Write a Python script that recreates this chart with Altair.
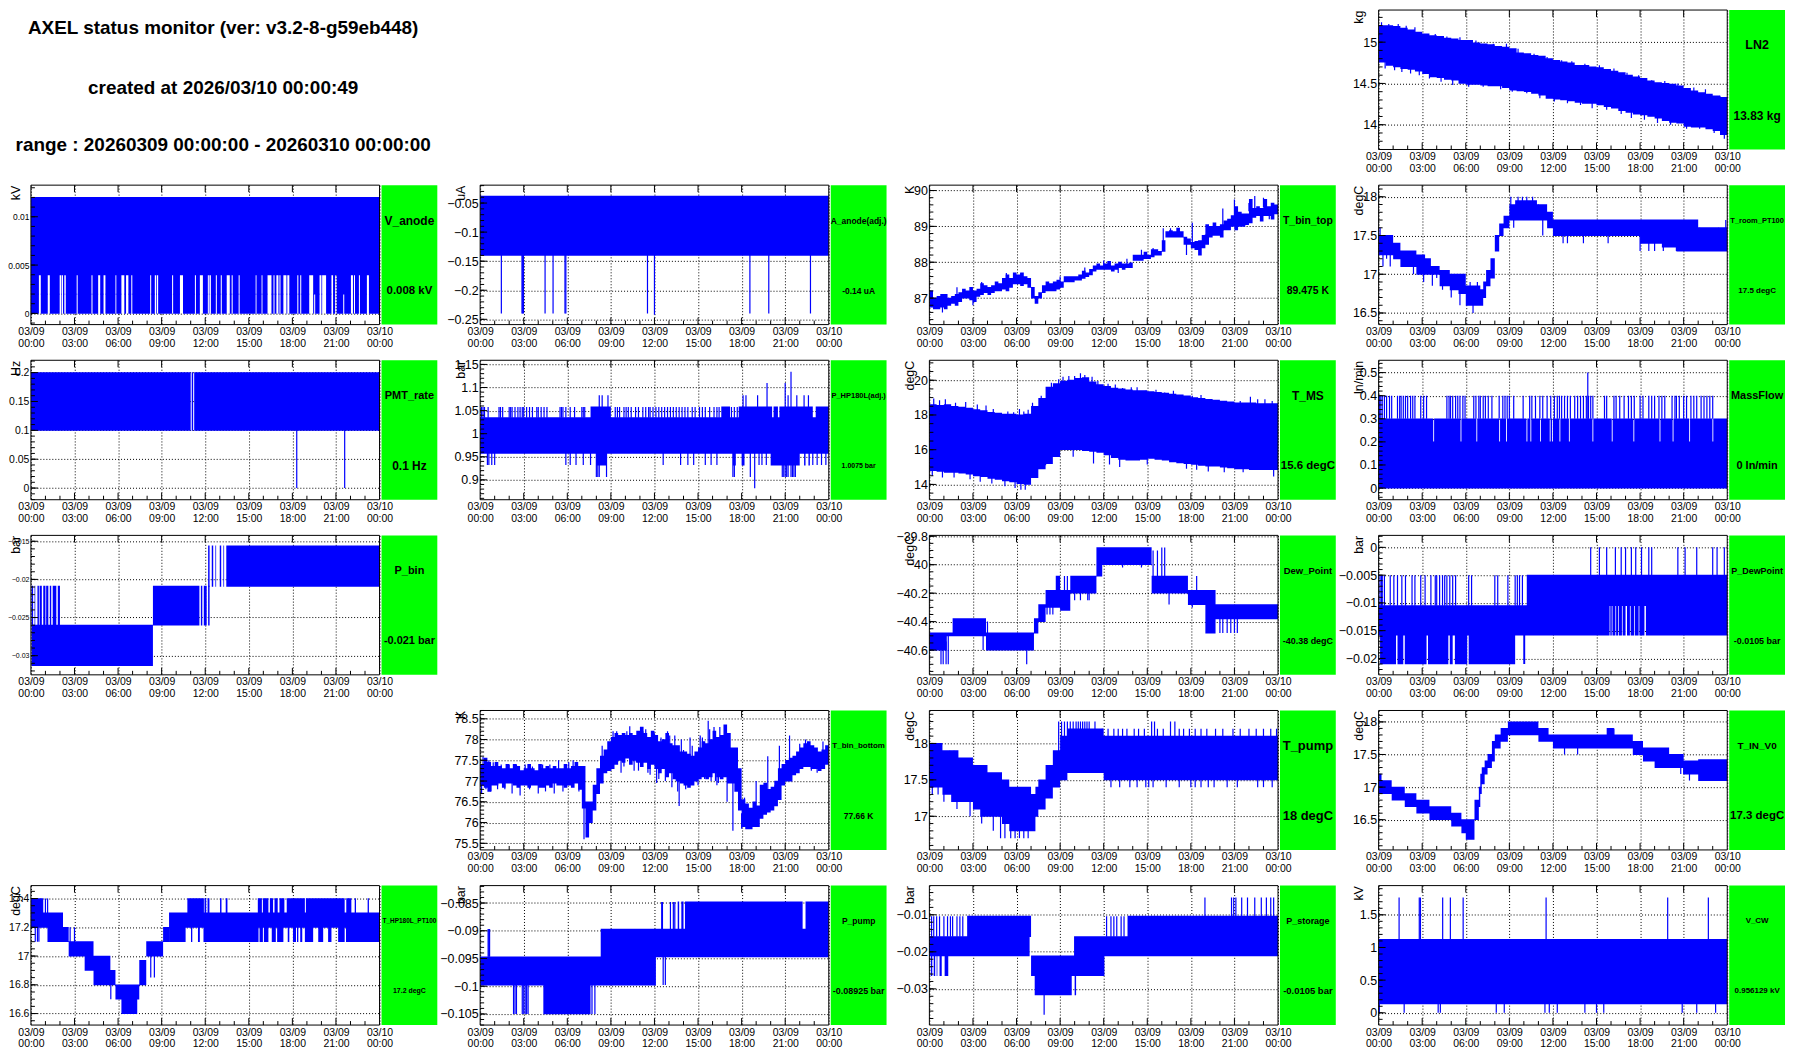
import altair as alt
import pandas as pd

BLUE = "#0000ff"
GREEN = "#00ff00"
FONT = "Liberation Sans"
HOURS_MAJOR = [0, 3, 6, 9, 12, 15, 18, 21, 24]
HOURS_MINOR = [1, 2, 4, 5, 7, 8, 10, 11, 13, 14, 16, 17, 19, 20, 22, 23]

TITLE_LINES = ["AXEL status monitor (ver: v3.2-8-g59eb448)",
               "created at 2026/03/10 00:00:49",
               "range : 20260309 00:00:00 - 20260310 00:00:00"]

# ---------- LN2
LN2_HI = [15.2,15.2,15.19,15.17,15.15,15.12,15.1,15.08,15.07,15.05,15.04,15.02,15.02,14.99,14.98,14.97,14.95,14.94,14.92,14.87,14.86,14.84,14.83,14.8,14.78,14.76,14.75,14.72,14.72,14.7,14.69,14.67,14.65,14.63,14.6,14.58,14.56,14.53,14.51,14.5,14.49,14.47,14.44,14.41,14.39,14.37,14.35,14.33,14.31]
LN2_LO = [14.76,14.72,14.7,14.68,14.67,14.65,14.62,14.58,14.57,14.55,14.54,14.5,14.49,14.49,14.48,14.47,14.47,14.45,14.42,14.41,14.4,14.38,14.36,14.32,14.31,14.3,14.29,14.27,14.26,14.26,14.24,14.22,14.2,14.17,14.15,14.13,14.12,14.1,14.08,14.05,14.03,14.02,13.98,13.97,13.97,13.95,13.93,13.88,13.84]
LN2_ST = [.2,.45,.7,1.1,1.35,1.6,1.9,2.2,2.5,2.8,3.2,3.5,3.9,4.3,4.7,5.1,5.6,6.2,6.7,7.2,7.9,8.4,8.8,9.2,9.6,10.2,10.7,11.1,11.6,12.1,12.6,13.0,13.3,13.9,14.2,14.7,15.2,15.7,16.2,16.7,17.1,17.4,17.9,18.3,18.8,19.2,19.7,20.1,20.6,21.2,21.7,22.1,22.5,23.1,23.5,23.8]
LN2_SY = [15.24,14.68,15.22,14.66,15.22,14.64,15.2,14.62,15.18,14.6,15.1,14.56,15.1,14.52,15.07,14.48,15.06,14.46,15.02,14.46,14.98,14.43,14.98,14.4,14.92,14.38,14.86,14.32,14.82,14.28,14.78,14.26,14.77,14.24,14.74,14.2,14.72,14.18,14.68,14.13,14.63,14.08,14.6,14.06,14.54,14.02,14.53,14.0,14.5,13.95,14.45,13.95,14.43,13.9,14.35,13.83]

# ---------- V_anode
VA_GAPS = [(.55,.68),(1.16,1.3),(1.98,2.08),(2.12,2.21),(2.3,2.4),(3.15,3.22),(4.17,4.24),(4.63,4.77),(5.0,5.13),(5.82,5.88),(6.23,6.43),(6.55,6.71),(6.91,6.98),(8.21,8.28),(8.53,8.62),(8.67,8.76),(9.72,9.79),(10.26,10.47),(11.29,11.36),(11.63,11.84),(12.18,12.25),(12.29,12.39),(12.73,12.8),(13.07,13.14),(13.48,13.69),(13.82,13.89),(14.3,14.37),(15.47,15.53),(15.88,15.94),(16.29,16.56),(16.7,16.77),(16.9,17.04),(17.11,17.18),(17.38,17.59),(17.65,17.79),(18.34,18.41),(18.54,18.61),(19.16,19.43),(19.87,20.0),(20.05,20.32),(20.69,20.8),(20.94,21.05),(22.03,22.17),(22.24,22.31),(22.58,22.65),(23.13,23.27)]
VA_LOWGAPS = [(19.5,19.57),(21.5,21.57)]

# ---------- A_anode
AA_ST = [1.46,2.88,2.93,2.98,4.47,5.02,5.84,5.9,11.52,12.0,18.57,19.87,22.74]
AA_SY = [-.24,-.24,-.24,-.24,-.24,-.24,-.24,-.24,-.24,-.242,-.24,-.24,-.24]

# ---------- T_bin_top (quarter hour grid)
TT_HI = [87.2,87.0,87.05,87.1,87.1,87.0,87.05,87.1,87.15,87.25,87.2,87.3,87.2,87.25,87.4,87.35,87.3,87.35,87.45,87.4,87.55,87.65,87.55,87.7,87.65,87.7,87.6,87.55,87.3,87.05,87.15,87.35,87.45,87.4,87.45,87.5,87.45,87.6,87.6,87.6,87.6,87.65,87.75,87.7,87.8,87.9,87.95,87.9,87.95,88.02,87.9,87.95,88.0,87.95,87.95,87.98,88.2,88.2,88.2,88.28,88.2,88.35,88.35,88.3,88.6,88.85,88.88,88.85,88.95,88.85,88.7,88.65,88.55,88.58,88.6,88.75,89.05,89.0,89.1,89.0,89.05,89.15,89.2,89.3,89.55,89.4,89.35,89.35,89.75,89.5,89.55,89.5,89.75,89.55,89.65,89.6,89.6]
TT_LO = [86.75,86.7,86.7,86.75,86.7,86.8,86.85,86.8,86.9,87.0,87.0,86.95,86.9,87.05,87.1,87.15,87.1,87.15,87.2,87.2,87.25,87.2,87.3,87.4,87.4,87.35,87.4,87.3,87.0,86.85,87.0,87.15,87.2,87.2,87.2,87.25,87.3,87.45,87.45,87.45,87.5,87.5,87.55,87.6,87.65,87.75,87.8,87.8,87.8,87.8,87.75,87.8,87.85,87.8,87.85,87.85,88.05,88.05,88.05,88.1,88.1,88.15,88.2,88.2,88.3,88.7,88.7,88.7,88.7,88.7,88.5,88.5,88.4,88.35,88.2,88.4,88.5,88.7,88.75,88.75,88.7,88.9,88.9,89.0,88.9,89.0,89.0,89.05,89.1,89.25,89.3,89.15,89.3,89.3,89.2,89.35,89.4]
TT_ST = [.1,.9,1.9,3.0,3.6,5.3,5.9,6.3,9.0,9.6,10.7,12.0,13.0,13.6,14.6,15.4,16.1,16.6,17.7,18.1,19.0,20.2,20.7,21.0,21.5,22.0,22.4,23.0,23.4]
TT_SY = [87.2,86.6,87.3,86.8,87.45,87.7,87.7,87.7,87.6,87.45,87.85,88.05,87.7,88.1,88.35,88.4,88.95,88.95,88.2,89.1,88.65,89.5,88.9,89.75,89.05,89.65,89.85,89.8,89.2]

# ---------- T_room
TR_T = [0,1,1.5,2,2.6,3.2,3.6,4.2,4.9,5.5,6.0,7.0,7.2,7.4,7.7,8.0,8.3,8.6,9.0,9.4,10.9,11.6,12.0,17.6,18.0,19.5,20.5,22.0,24]
TR_HI = [17.5,17.4,17.3,17.3,17.25,17.2,17.1,17.05,17.0,17.0,16.85,16.8,16.9,17.05,17.2,17.5,17.65,17.75,17.9,17.95,17.9,17.8,17.7,17.7,17.7,17.7,17.7,17.6,17.5]
TR_LO = [17.25,17.2,17.1,17.1,17.0,17.0,17.0,16.85,16.8,16.75,16.6,16.6,16.7,16.85,16.95,17.3,17.5,17.6,17.7,17.7,17.7,17.6,17.5,17.5,17.4,17.35,17.3,17.3,17.3]
TR_ST = [.1,.3,.55,.8,1.1,1.3,1.6,2.2,2.4,2.9,3.1,3.5,3.7,4.0,4.4,4.6,5.0,5.3,5.6,5.75,6.3,6.5,6.8,8.9,9.1,9.3,9.6,9.9,10.2,10.6,11.0,11.3,12.7,13.0,14.1,15.8,17.7,18.0,18.6,19.0,19.6,20.5,21.0,22.1,22.6,23.4,23.9]
TR_SY = [17.6,17.1,17.2,17.1,17.2,17.4,17.1,17.3,17.0,17.2,16.9,17.1,16.85,16.95,16.8,16.95,16.7,16.9,16.6,16.9,16.9,16.5,16.9,17.6,18.0,17.6,18.0,18.0,18.0,18.0,17.9,17.5,17.4,17.4,17.4,17.4,17.7,17.3,17.3,17.3,17.3,17.3,17.3,17.6,17.3,17.6,17.7]

# ---------- PMT_rate
PMT_GAPS = [(11.0,11.07),(11.17,11.24)]
PMT_ST = [18.3,21.6]
PMT_SY = [0,0]

# ---------- P_HP180L
HP_UP_SOLID = [(7.6,9.0),(16.6,17.2),(17.8,20.1),(20.2,20.5),(20.6,22.9),(23.1,24)]
HP_UP_ST = [.1,.2,.3,.55,1.3,1.4,1.55,2.0,2.1,2.2,2.4,2.6,2.75,2.9,3.0,3.2,3.4,3.6,3.9,4.0,4.2,4.4,4.6,5.5,5.6,5.7,5.9,6.2,6.5,7.0,7.1,7.2,9.3,9.45,9.6,9.9,10.05,10.2,10.4,10.7,10.9,11.2,11.4,11.6,11.7,11.9,12.1,12.3,12.5,12.7,12.9,13.1,13.3,13.5,13.7,13.9,14.1,14.3,14.6,14.8,15.1,15.3,15.5,15.8,16.1,16.3,16.45,17.3,17.5,17.7]
HP_HIGH_ST = [8.2,8.4,8.8,18.1,18.3,19.1,19.75,21.0,21.2,21.4,21.8,22.3,22.6]
HP_HIGH_SY = [1.083,1.083,1.083,1.083,1.083,1.083,1.11,1.11,1.083,1.134,1.083,1.083,1.083]
HP_DN_SOLID = [(20.0,22.0),(18.0,18.2),(8.0,8.7),(17.4,17.6),(22.3,22.4),(22.6,22.7)]
HP_DN_ST = [.5,.6,.8,1.0,5.9,6.2,6.6,7.1,7.6,8.0,8.1,8.2,8.7,12.6,13.8,14.3,14.7,15.5,15.9,16.3,17.4,17.5,18.6,18.9,19.2,19.4,19.7,22.9,23.2,23.5,23.8]
HP_DN_SY = [.932,.932,.932,.932,.932,.932,.932,.932,.932,.906,.906,.906,.906,.932,.932,.932,.932,.932,.932,.932,.906,.906,.906,.882,.932,.932,.932,.932,.932,.932,.932]
HP_LOW_ST = [20.8,20.9,21.0,21.1,21.2,21.4,21.5,21.6,21.7]

# ---------- T_MS
MS_HI = [18.6,18.55,18.6,18.5,18.45,18.4,18.3,18.25,18.15,18.1,18.05,18.05,18.0,18.05,18.5,18.95,19.6,19.8,19.95,20.0,20.1,20.15,19.9,19.75,19.65,19.55,19.5,19.45,19.4,19.4,19.35,19.3,19.25,19.2,19.15,19.1,19.0,18.95,18.9,18.85,18.8,18.75,18.7,18.7,18.7,18.65,18.65,18.65,18.6]
MS_LO = [14.8,14.75,14.7,14.7,14.65,14.6,14.5,14.45,14.35,14.3,14.2,14.15,14.05,14.0,14.4,14.9,15.2,15.6,16.0,16.0,16.0,15.95,15.9,15.85,15.7,15.55,15.45,15.4,15.4,15.45,15.5,15.45,15.4,15.3,15.25,15.2,15.15,15.1,15.05,15.05,15.0,14.95,14.9,14.9,14.85,14.85,14.85,14.85,15.0]
MS_ST = [.3,.7,1.1,1.8,2.5,3.3,3.9,4.4,5.4,5.8,6.2,6.5,6.8,7.1,7.7,8.4,8.9,9.2,9.6,10.0,10.4,10.7,11.2,11.6,12.3,12.8,13.3,13.9,14.3,14.9,15.6,16.2,16.8,17.4,18.1,18.7,19.2,19.7,20.3,20.9,21.4,22.1,22.6,23.1,23.6,.2,.9,1.7,2.8,3.5,4.3,5.2,5.9,6.3,6.6,8.0,9.9,11.3,12.4,13.1,15.0,17.7,18.4,19.2,20.3,21.6,23.7]
MS_SY = [18.95,18.85,18.9,18.7,18.75,18.6,18.55,18.35,18.2,18.15,18.35,18.2,18.3,18.7,19.1,19.85,20.05,20.2,20.25,20.25,20.4,20.3,20.2,19.95,19.8,19.75,19.55,19.6,19.6,19.4,19.45,19.3,19.4,19.15,19.1,19.15,18.9,18.85,18.8,18.75,18.8,19.05,18.9,18.9,18.8,14.5,14.4,14.4,14.3,14.15,14.05,13.9,13.8,13.7,13.7,15.1,15.6,15.2,15.15,15.0,15.15,14.9,14.85,14.75,14.7,14.7,14.45]

# ---------- MassFlow
MF_NOTCH = [3.76,5.64,6.73,8.3,8.77,10.18,10.45,11.12,11.78,11.94,12.45,13.1,14.72,16.05,17.54,19.34,20.24,21.38,22.98]
MF_UP_ST = [.05,.15,.25,.4,.55,.75,.9,1.3,1.45,1.55,1.7,1.85,2.0,2.2,2.35,2.5,2.9,3.1,3.3,4.7,4.85,4.95,5.1,5.3,5.45,5.6,5.8,5.95,6.55,6.7,6.9,7.0,7.2,7.35,7.55,7.8,8.3,8.55,8.7,8.85,9.0,9.3,9.95,10.4,10.55,10.8,11.1,11.3,11.6,11.85,12.1,12.3,12.45,12.6,12.8,13.0,13.2,13.5,13.7,13.9,14.1,14.3,14.45,14.6,14.75,15.55,15.7,16.2,16.35,16.6,16.9,17.2,17.4,17.6,18.0,18.2,18.6,18.8,19.0,19.3,19.5,19.7,20.2,20.4,20.5,20.7,21.0,21.2,21.5,21.7,21.9,22.2,22.4,22.6,22.8,23.0]
MF_TOP_ST = [14.4]
MF_TOP_SY = [.5]

# ---------- P_bin
PB_LOW = [(.05,8.4)]
PB_MID = [(.05,.15),(.25,.3),(.45,.55),(.6,.75),(.85,1.0),(1.05,1.2),(1.3,1.4),(1.5,1.75),(1.85,2.0),(8.4,11.6),(11.7,11.8),(11.9,12.1),(12.2,12.3)]
PB_TOP = [(12.2,12.3),(12.45,12.55),(12.7,12.75),(13.0,13.1),(13.25,13.3),(13.45,24)]

# ---------- Dew_Point
DP_T = [0,1.2,1.6,3.9,7.2,7.5,8.0,8.7,9.0,9.7,11.5,11.9,15.3,16.0,17.8,19.0,19.7,24]
DP_HI = [-40.48,-40.48,-40.38,-40.48,-40.38,-40.28,-40.18,-40.08,-40.18,-40.08,-39.88,-39.88,-40.08,-40.08,-40.18,-40.18,-40.28,-40.28]
DP_LO = [-40.6,-40.5,-40.5,-40.6,-40.48,-40.4,-40.3,-40.3,-40.32,-40.2,-40.08,-40.0,-40.2,-40.2,-40.28,-40.48,-40.38,-40.38]
DP_ST = [.8,.95,1.15,1.3,3.7,4.0,6.7,9.1,11.9,13.3,14.6,15.4,15.7,16.0,16.2,16.5,17.5,18.1,18.4,19.35,19.5,20.0,20.2,20.5,20.75,21.0,21.2,8.1,8.3,8.5,9.3,9.5,10.0,10.4,10.9,11.0]
DP_SY = [-40.7,-40.7,-40.7,-40.7,-40.6,-40.4,-40.7,-40.3,-40.0,-40.02,-40.02,-39.9,-39.9,-39.88,-39.88,-40.28,-40.08,-40.3,-40.08,-40.48,-40.48,-40.48,-40.48,-40.48,-40.48,-40.48,-40.48,-40.35,-40.35,-40.35,-40.08,-40.08,-40.25,-40.25,-40.25,-40.25]

# ---------- P_DewPoint
PD_MID_GAPS = [(15.9,15.95),(16.05,16.1),(16.3,16.35),(16.5,16.55),(16.75,16.8),(17.0,17.1),(17.3,17.35),(17.6,17.65),(17.9,17.95),(18.3,18.4)]
PD_LOW = [(.1,1.2),(1.3,1.7),(1.8,3.3),(3.4,4.8),(4.9,5.1),(5.25,6.1),(6.2,9.4)]
PD_UP_SOLID = [(10.2,24)]
PD_UP_ST = [.1,.2,.25,.4,.8,1.05,1.3,1.6,1.85,2.3,2.5,2.9,3.2,3.6,3.9,4.0,4.2,4.4,4.55,4.7,4.9,5.1,5.3,6.2,6.4,8.0,8.2,8.9,9.4,9.55,9.7,9.9]
PD_TOP_ST = [14.6,15.2,15.7,16.3,16.7,17.0,17.4,17.7,18.1,18.6,18.8,20.6,21.1,21.9,23.0,23.3,23.8]
PD_DN_ST = [10.0,10.05]
PD_DN_SY = [-.021,-.021]

# ---------- T_bin_bottom (quarter hour grid)
TB_HI = [77.4,77.55,77.45,77.35,77.45,77.35,77.3,77.4,77.3,77.4,77.35,77.25,77.3,77.4,77.3,77.25,77.4,77.3,77.35,77.3,77.35,77.3,77.3,77.4,77.3,77.35,77.45,77.35,77.35,76.5,76.5,76.9,77.3,77.6,77.75,77.95,78.05,78.15,78.1,78.15,78.1,78.15,78.1,78.2,78.3,78.15,78.05,78.2,78.1,77.95,78.0,78.15,77.9,77.85,77.85,77.7,77.7,77.65,77.6,77.7,77.8,77.95,77.9,78.0,78.2,78.05,78.1,78.35,78.15,77.8,77.8,77.3,76.55,76.45,76.35,76.5,76.4,76.9,76.95,76.8,76.85,77.0,77.3,77.4,77.5,77.55,77.6,77.7,77.8,77.9,77.95,77.85,77.8,77.7,77.75,77.85,77.8]
TB_LO = [76.9,76.85,76.75,76.9,76.9,76.95,76.85,76.95,76.95,76.9,76.85,76.9,76.9,76.85,76.9,76.9,76.85,76.85,76.9,76.85,76.95,76.9,76.9,76.85,76.9,76.85,76.95,76.8,76.35,75.65,76.0,76.3,76.7,76.95,77.2,77.25,77.3,77.4,77.5,77.45,77.55,77.4,77.5,77.45,77.35,77.45,77.3,77.4,77.3,77.2,77.3,77.1,77.2,77.05,77.0,76.95,76.9,76.85,76.9,77.0,77.05,77.1,77.05,77.1,77.2,77.1,77.05,77.1,76.95,76.95,76.75,76.3,75.9,75.85,75.85,75.9,75.9,76.1,76.2,76.25,76.3,76.4,76.55,76.9,77.0,77.0,77.15,77.2,77.3,77.35,77.35,77.3,77.3,77.25,77.3,77.4,77.45]
TB_ST = [.1,.2,.4,.6,.75,.9,1.2,1.45,1.7,2.0,2.2,2.5,2.75,3.1,3.4,3.6,4.0,4.3,4.5,4.8,5.1,5.4,5.7,6.1,6.4,6.8,7.15,8.4,8.9,9.15,9.4,9.7,10.3,10.6,10.9,11.2,11.4,11.7,12.0,12.3,12.6,12.9,13.2,13.4,13.6,13.7,14.0,14.3,14.6,15.0,15.3,15.7,15.9,16.1,16.3,16.5,17.0,17.4,18.0,18.2,18.5,19.0,19.3,19.5,19.8,20.3,20.6,20.9,21.3,21.6,22.0,22.4,22.8,23.2,23.6,9.0,9.9,10.1,10.75,11.05,11.55,11.85,12.15,12.45,12.75,13.05,13.5,13.85,14.15,14.45,14.8,15.15,15.45,15.8,16.2,16.4]
TB_SY = [76.7,77.58,76.8,77.5,76.75,77.45,76.8,77.4,76.8,77.4,76.7,77.4,76.65,77.4,76.8,77.35,76.7,77.4,76.75,77.4,76.7,77.5,76.75,77.45,77.5,76.75,75.6,77.85,77.3,78.2,78.2,77.2,78.32,77.25,77.25,78.2,78.25,77.15,78.15,77.05,78.0,78.2,76.85,78.1,76.75,76.4,77.75,76.95,77.85,76.9,78.05,78.45,77.0,78.3,76.9,78.3,76.5,75.8,75.85,76.6,76.0,77.0,76.5,76.3,77.6,76.9,77.85,77.1,78.1,77.25,77.9,78.0,77.25,77.2,77.95,77.25,77.35,78.2,77.45,78.3,77.2,78.15,76.95,78.05,77.0,78.1,77.0,78.0,76.8,78.05,77.0,78.1,77.05,78.25,77.0,76.95]

# ---------- T_pump
TP_T = [0,.9,1.5,2,3,3.5,4,5,5.5,6,7,7.3,7.5,8,8.5,9,9.5,11,12,24]
TP_HI = [18,17.9,17.9,17.8,17.7,17.7,17.6,17.5,17.4,17.4,17.3,17.4,17.5,17.7,17.9,18.1,18.2,18.2,18.1,18.1]
TP_LO = [17.4,17.3,17.2,17.2,17.1,17.0,17.0,16.9,16.8,16.8,16.8,17.0,17.1,17.25,17.4,17.5,17.6,17.6,17.5,17.5]
TP_ST = [.3,.55,.8,1.4,1.7,2.0,2.3,3.3,3.9,4.3,4.7,5.1,5.4,5.8,6.1,6.4,6.7,8.9,9.1,9.3,9.5,9.7,9.9,10.1,10.25,10.4,10.55,10.7,10.85,11.0,11.4,11.9,12.3,12.7,13.0,13.3,13.6,14.1,14.4,14.8,15.3,15.5,15.7,16.1,16.6,16.9,17.2,17.5,17.9,18.3,18.7,19.1,19.7,20.2,20.9,21.4,22.0,22.5,23.0,23.5,23.9,.2,.6,1.0,1.9,2.8,3.6,4.4,4.9,5.2,5.6,5.9,6.2,6.5,6.8,12.5,13.1,13.8,14.3,14.9,15.1,15.4,16.3,17.2,18.0,18.3,18.7,19.2,19.6,20.5,21.2,22.6,23.0,23.6]
TP_SY = [18,18,18,17.9,17.9,17.8,17.8,17.7,17.6,17.5,17.5,17.4,17.4,17.4,17.4,17.4,17.4,18.3,18.3,18.3,18.3,18.3,18.3,18.3,18.3,18.3,18.3,18.3,18.3,18.3,18.3,18.2,18.2,18.2,18.2,18.2,18.2,18.2,18.2,18.2,18.3,18.3,18.2,18.2,18.3,18.3,18.2,18.2,18.2,18.2,18.2,18.2,18.2,18.2,18.2,18.2,18.2,18.2,18.2,18.2,18.2,17.3,17.3,17.2,17.1,17.0,16.9,16.8,16.7,16.7,16.7,16.7,16.7,16.7,16.7,17.4,17.4,17.4,17.4,17.4,17.4,17.4,17.4,17.4,17.4,17.4,17.4,17.4,17.4,17.4,17.4,17.4,17.4,17.4]

# ---------- T_IN_V0
TI_T = [0,.2,.9,1.8,2.6,3.5,4.0,5.0,5.7,6.0,6.6,6.9,7.0,7.1,7.3,7.5,7.8,8.0,8.4,8.9,11.0,11.7,12,15.7,16.2,17.5,18.2,19,20,21,22,24]
TI_HI = [17.2,17.1,17.0,16.9,16.8,16.7,16.7,16.6,16.5,16.5,16.8,17.0,17.2,17.3,17.4,17.5,17.7,17.8,17.9,18.0,17.9,17.8,17.8,17.9,17.8,17.7,17.6,17.6,17.5,17.4,17.42,17.42]
TI_LO = [16.9,16.9,16.8,16.7,16.6,16.5,16.5,16.4,16.3,16.2,16.5,16.7,16.9,17.05,17.2,17.3,17.4,17.6,17.7,17.8,17.7,17.7,17.6,17.6,17.6,17.5,17.4,17.3,17.3,17.2,17.1,17.1]
TI_ST = [12.8,13.7,18.9,20.8,21.0,21.2,21.4,16.0,16.2]
TI_SY = [17.5,17.5,17.4,17.2,17.2,17.2,17.1,17.9,17.9]

# ---------- T_HP180L_PT100
HL_T = [0,.85,1.14,2.21,2.6,3.7,4.31,5.47,5.82,6.23,7.32,7.46,7.94,9.1,9.51,24]
HL_HI = [17.4,17.3,17.3,17.2,17.1,17.1,17.0,16.9,16.8,16.8,16.8,16.97,17.1,17.2,17.3,17.3]
HL_LO = [17.2,17.2,17.1,17.1,17.0,16.9,16.8,16.8,16.7,16.6,16.7,16.8,17.0,17.1,17.2,17.2]
HL_TOP = [(10.77,11.91),(11.95,12.07),(12.16,12.29),(13.02,13.12),(13.41,13.53),(15.62,15.9),(15.97,16.35),(16.45,16.67),(16.77,16.99),(17.11,17.45),(17.61,18.86),(18.93,21.6),(21.71,22.06),(22.29,22.38),(23.18,23.27)]
HL_LOW = [(9.51,10.65),(11.02,11.11),(11.5,11.63),(11.88,15.67),(15.74,15.97),(16.04,16.35),(16.58,16.86),(16.95,17.38),(17.68,17.79),(18.04,18.25),(18.32,18.41),(18.54,18.68),(18.86,19.43),(19.78,20.12),(20.46,20.69),(21.15,21.6),(21.69,24)]
HL_ST = [1.0,1.15,.3,.45,.55,3.0,2.7,5.5,8.25,8.5]
HL_SY = [17.4,17.4,17.1,17.1,17.1,17.2,17.2,16.7,16.85,16.85]

# ---------- P_pump
PP_A = [(0,12.1)]
PP_B = [(8.3,24)]
PP_C = [(13.6,13.7),(13.85,14.0),(14.1,22.2),(22.4,24)]
PP_D = [(4.35,7.6)]
PP_C_ST = [12.5,12.55,13.1,13.3,13.4]
PP_D_ST = [2.3,2.4,2.5,2.9,3.0,3.1,3.2,3.3,7.7,7.9]
PP_B_ST = [.55,.6,.65]
PP_A_ST = [12.6,12.75]

# ---------- P_storage
PS_B = [(0,6.9),(9.96,24)]
PS_C = [(2.6,7.0),(13.64,24)]
PS_C_ST = [.15,.3,.5,.7,1.0,1.25,1.45,1.6,1.9,2.1,2.3,12.2,12.5,12.7,12.9,13.2,13.4]
PS_D = [(.1,.2),(.3,.4),(.5,.55),(.7,.85),(1.05,1.3),(7.0,12.05)]
PS_E = [(7.25,9.8),(10.0,10.1)]
PS_TOP_ST = [18.97,20.8,20.95,21.1,21.5,21.9,22.4,22.85,23.2,23.5,23.7]
PS_SP_ST = [7.9]
PS_SP_SY = [-.037]

# ---------- V_CW
VC_UP_ST = [1.41,2.8,2.88,4.41,4.94,5.82,11.53,19.9,22.7]
VC_DN_ST = [0.05,1.76,4.1,4.25,8.1,8.65,11.45,11.75,12.3,14.2,15.0,15.5,20.9,21.9,23.2]


def blocks(ranges, lo, hi):
    t, l, h = [], [], []
    for a, b in ranges:
        t += [a, b]
        l += [lo, hi]
        h += [hi, hi]
    return t, l, h


def holes(gaps):
    out, s = [], 0
    for a, b in gaps:
        out.append((s, a))
        s = b
    out.append((s, 24))
    return out


def q(n, step):
    return [i * step for i in range(n)]


def band_at(bands, t):
    for T, L, H in bands:
        for i in range(len(T) - 1):
            if T[i] <= t < T[i + 1] and H[i] > L[i]:
                return (H[i] + L[i]) / 2
    return None


PANELS = [
 dict(name="LN2", val="13.83 kg", ns=12.5, vs=12, unit="kg", dom=[13.70, 15.389], major=[14, 14.5, 15], minor=.1,
      bands=[(q(len(LN2_HI), .5), LN2_LO, LN2_HI)], tip=(LN2_ST, LN2_SY)),
 dict(name="V_anode", val="0.008 kV", ns=12, vs=11.5, unit="kV", dom=[-.00116, .01327], major=[0, .005, .01], minor=.001, ls=8.5, tx=-11,
      bands=[([0, 24], [.004, .004], [.012, .012]), blocks(holes(VA_GAPS), .002, .004), blocks(holes(sorted(VA_GAPS + VA_LOWGAPS)), 0, .002)]),
 dict(name="A_anode(adj.)", val="-0.14 uA", ns=8.5, vs=8.5, unit="uA", dom=[-.2591, -.0192], major=[-.25, -.2, -.15, -.1, -.05], minor=.01,
      bands=[([0, 24], [-.14, -.14], [-.038, -.038])], tip=(AA_ST, AA_SY)),
 dict(name="T_bin_top", val="89.475 K", ns=10.5, vs=10.5, unit="K", dom=[86.26, 90.15], major=[87, 88, 89, 90], minor=.2,
      bands=[(q(len(TT_HI), .25), TT_LO, TT_HI)], tip=(TT_ST, TT_SY)),
 dict(name="T_room_PT100", val="17.5 degC", ns=7.5, vs=8, unit="degC", dom=[16.35, 18.15], major=[16.5, 17, 17.5, 18], minor=.1,
      bands=[(TR_T, TR_LO, TR_HI)], tip=(TR_ST, TR_SY)),
 dict(name="PMT_rate", val="0.1 Hz", ns=11, vs=12, unit="Hz", dom=[-.0202, .2214], major=[0, .05, .1, .15, .2], minor=.01, ls=10.5, tx=-11,
      bands=[blocks(holes(PMT_GAPS), .1, .2)], tip=(PMT_ST, PMT_SY)),
 dict(name="P_HP180L(adj.)", val="1.0075 bar", ns=7.5, vs=7, unit="bar", dom=[.857, 1.159], major=[.9, .95, 1, 1.05, 1.1, 1.15], minor=.01,
      bands=[([0, 24], [.9575, .9575], [1.0346, 1.0346]), blocks(HP_UP_SOLID, 1.0346, 1.058), blocks(HP_DN_SOLID, .932, .9575)],
      tip=(HP_HIGH_ST + HP_DN_ST, HP_HIGH_SY + HP_DN_SY),
      rules=[(HP_UP_ST, 1.0346, 1.058), (HP_LOW_ST, .906, .932)]),
 dict(name="T_MS", val="15.6 degC", ns=12, vs=11.5, unit="degC", dom=[13.12, 21.15], major=[14, 16, 18, 20], minor=.5,
      bands=[(q(len(MS_HI), .5), MS_LO, MS_HI)], tip=(MS_ST, MS_SY)),
 dict(name="MassFlow", val="0 ln/min", ns=11, vs=11, unit="ln/min", dom=[-.0505, .5534], major=[0, .1, .2, .3, .4, .5], minor=.02,
      bands=[blocks(holes([(x, x + .06) for x in MF_NOTCH]), .2, .3), ([0, 24], [0, 0], [.2, .2])],
      tip=(MF_TOP_ST, MF_TOP_SY), rules=[(MF_UP_ST, .3, .4)]),
 dict(name="P_bin", val="-0.021 bar", ns=11, vs=11, unit="bar", dom=[-.03251, -.01423], major=[-.03, -.025, -.02, -.015], minor=.001, ls=7, tx=-11,
      bands=[blocks(PB_LOW, -.0313, -.026), blocks(PB_MID, -.026, -.0209), blocks(PB_TOP, -.0209, -.0156)]),
 dict(name="Dew_Point", val="-40.38 degC", ns=9.5, vs=9, unit="degC", dom=[-40.774, -39.794], major=[-40.6, -40.4, -40.2, -40, -39.8], minor=.05,
      bands=[(DP_T, DP_LO, DP_HI)], tip=(DP_ST, DP_SY)),
 dict(name="P_DewPoint", val="-0.0105 bar", ns=9, vs=9, unit="bar", dom=[-.02296, .00216], major=[-.02, -.015, -.01, -.005, 0], minor=.001,
      bands=[blocks(holes(PD_MID_GAPS), -.0158, -.0105), blocks(PD_UP_SOLID, -.0105, -.005), blocks(PD_LOW, -.021, -.0158)],
      tip=(PD_DN_ST, PD_DN_SY), rules=[(PD_UP_ST, -.0105, -.005), (PD_TOP_ST, -.005, 0)]),
 dict(name="T_bin_bottom", val="77.66 K", ns=8, vs=8.5, unit="K", dom=[75.34, 78.70], major=[75.5, 76, 76.5, 77, 77.5, 78, 78.5], minor=.1,
      bands=[(q(len(TB_HI), .25), TB_LO, TB_HI)], tip=(TB_ST, TB_SY)),
 dict(name="T_pump", val="18 degC", ns=13, vs=13, unit="degC", dom=[16.538, 18.452], major=[17, 17.5, 18], minor=.1,
      bands=[(TP_T, TP_LO, TP_HI)], tip=(TP_ST, TP_SY)),
 dict(name="T_IN_V0", val="17.3 degC", ns=10, vs=11.5, unit="degC", dom=[16.036, 18.175], major=[16.5, 17, 17.5, 18], minor=.1,
      bands=[(TI_T, TI_LO, TI_HI)], tip=(TI_ST, TI_SY)),
 dict(name="T_HP180L_PT100", val="17.2 degC", ns=6.5, vs=7, unit="degC", dom=[16.52, 17.49], major=[16.6, 16.8, 17, 17.2, 17.4], minor=.05, ls=10.5, tx=-11,
      bands=[(HL_T, HL_LO, HL_HI), blocks(HL_TOP, 17.3, 17.4), blocks(HL_LOW, 17.1, 17.2)], tip=(HL_ST, HL_SY)),
 dict(name="P_pump", val="-0.08925 bar", ns=8.5, vs=9, unit="bar", dom=[-.107, -.08186], major=[-.105, -.1, -.095, -.09, -.085], minor=.001,
      bands=[blocks(PP_A, -.0998, -.0947), blocks(PP_B, -.0947, -.0897), blocks(PP_C, -.0897, -.0848), blocks(PP_D, -.105, -.0998)],
      rules=[(PP_C_ST, -.0897, -.0848), (PP_D_ST, -.105, -.0998), (PP_B_ST, -.0947, -.0897), (PP_A_ST, -.0998, -.0947)]),
 dict(name="P_storage", val="-0.0105 bar", ns=9, vs=9.5, unit="bar", dom=[-.03977, -.00212], major=[-.03, -.02, -.01], minor=.002,
      bands=[blocks(PS_B, -.0211, -.0159), blocks(PS_C, -.0159, -.0104), blocks(PS_D, -.0264, -.0211), blocks(PS_E, -.0316, -.0264)],
      tip=(PS_SP_ST, PS_SP_SY), rules=[(PS_C_ST, -.0159, -.0104), (PS_TOP_ST, -.0104, -.0053)]),
 dict(name="V_CW", val="0.956129 kV", ns=8, vs=8, unit="kV", dom=[-.1875, 1.947], major=[0, .5, 1, 1.5], minor=.1,
      bands=[([0, 24], [.137, .137], [1.123, 1.123])], rules=[(VC_UP_ST, 1.123, 1.763), (VC_DN_ST, 0, .137)]),
]
BY_NAME = {p["name"]: p for p in PANELS}

LAYOUT = [
 ["TITLE", None, None, "LN2"],
 ["V_anode", "A_anode(adj.)", "T_bin_top", "T_room_PT100"],
 ["PMT_rate", "P_HP180L(adj.)", "T_MS", "MassFlow"],
 ["P_bin", None, "Dew_Point", "P_DewPoint"],
 [None, "T_bin_bottom", "T_pump", "T_IN_V0"],
 ["T_HP180L_PT100", "P_pump", "P_storage", "V_CW"],
]

PLOT_W, GREEN_X, CELL_W, H = 350, 352, 408, 140
ONE = pd.DataFrame({"a": [0]})
X_LABEL = ("[datum.value < 24 ? '03/09' : '03/10', "
           "(datum.value < 24 ? (datum.value < 10 ? '0' : '') + datum.value : '00') + ':00']")


def minor_values(dom, step):
    k = int(dom[0] / step) - 1
    out = []
    while k * step <= dom[1]:
        v = k * step
        if dom[0] <= v <= dom[1]:
            out.append(round(v, 6))
        k += 1
    return out


def panel(p):
    xs = alt.Scale(domain=[0, 24], range=[0, PLOT_W], nice=False, zero=False)
    ys = alt.Scale(domain=p["dom"], nice=False, zero=False)
    eps = (p["dom"][1] - p["dom"][0]) / H * 0.4
    rows = []
    for i, (T, L, U) in enumerate(p["bands"]):
        for a, b, c in zip(T, L, U):
            if c > b:
                b, c = b - eps, c + eps
            rows.append({"t": a, "lo": b, "hi": c, "b": i})
    sp = []
    if "tip" in p:
        for t, y in zip(*p["tip"]):
            c = band_at(p["bands"], t)
            sp.append({"t": t, "y0": y if c is None else c, "y1": y})
    for times, a, b in p.get("rules", []):
        for t in times:
            sp.append({"t": t, "y0": a, "y1": b})

    x_axis = alt.Axis(values=HOURS_MAJOR, labelExpr=X_LABEL, title=None, grid=True, domain=False, ticks=False,
                      labelPadding=2, labelFlush=False, labelOverlap=False, labelBound=False,
                      labelBaseline="top", labelAlign="center", labelLineHeight=12)
    y_axis = alt.Axis(values=p["major"], format="~g", title=p["unit"], grid=True, domain=False, ticks=False,
                      labelPadding=2, labelOverlap=False, labelBound=False, labelFlush=False,
                      labelFontSize=p.get("ls", 12.5),
                      titleAngle=-90, titleAlign="right", titleBaseline="alphabetic", titleX=p.get("tx", -16), titleY=0)
    X = lambda f: alt.X(f, scale=xs, axis=x_axis)
    Y = lambda f: alt.Y(f, scale=ys, axis=y_axis)
    area = alt.Chart(pd.DataFrame(rows)).mark_area(color=BLUE, interpolate="step-after", clip=True, opacity=1).encode(
        x=X("t:Q"), y=Y("lo:Q"), y2="hi:Q", detail="b:N")
    layers = [area]
    if sp:
        layers.append(alt.Chart(pd.DataFrame(sp)).mark_rule(color=BLUE, strokeWidth=1.2, clip=True).encode(
            x=X("t:Q"), y=Y("y0:Q"), y2="y1:Q"))
    yminor = pd.DataFrame({"v": minor_values(p["dom"], p["minor"])})
    ymajor = pd.DataFrame({"v": p["major"]})
    xminor = pd.DataFrame({"v": HOURS_MINOR})
    xmajor = pd.DataFrame({"v": HOURS_MAJOR[1:-1]})
    layers += [
        alt.Chart(yminor).mark_rule(color="black", strokeWidth=1).encode(y=Y("v:Q"), x=alt.value(0), x2=alt.value(4)),
        alt.Chart(ymajor).mark_rule(color="black", strokeWidth=1).encode(y=Y("v:Q"), x=alt.value(0), x2=alt.value(7)),
        alt.Chart(xminor).mark_rule(color="black", strokeWidth=1).encode(x=X("v:Q"), y=alt.value(H), y2=alt.value(H - 4)),
        alt.Chart(xmajor).mark_rule(color="black", strokeWidth=1).encode(x=X("v:Q"), y=alt.value(H), y2=alt.value(H - 7)),
        alt.Chart(xmajor).mark_rule(color="black", strokeWidth=1).encode(x=X("v:Q"), y=alt.value(0), y2=alt.value(7)),
        alt.Chart(ONE).mark_rect(fillOpacity=0, stroke="black", strokeWidth=1).encode(
            x=alt.value(0), x2=alt.value(PLOT_W), y=alt.value(0), y2=alt.value(H)),
        alt.Chart(ONE).mark_rect(color=GREEN).encode(
            x=alt.value(GREEN_X), x2=alt.value(CELL_W), y=alt.value(0), y2=alt.value(H)),
        alt.Chart(pd.DataFrame({"s": [p["name"]]})).mark_text(font=FONT, fontWeight="bold", fontSize=p["ns"], color="black").encode(
            x=alt.value((GREEN_X + CELL_W) / 2), y=alt.value(35.5), text="s:N"),
        alt.Chart(pd.DataFrame({"s": [p["val"]]})).mark_text(font=FONT, fontWeight="bold", fontSize=p["vs"], color="black").encode(
            x=alt.value((GREEN_X + CELL_W) / 2), y=alt.value(106), text="s:N"),
    ]
    return alt.layer(*layers).properties(width=CELL_W, height=H)


def empty():
    return alt.Chart(ONE).mark_point(opacity=0).encode(x=alt.value(0), y=alt.value(0)).properties(width=CELL_W, height=H)


def title_cell():
    ys = [18, 78, 135.5]
    return alt.layer(*[
        alt.Chart(pd.DataFrame({"s": [s]})).mark_text(font=FONT, fontWeight="bold", fontSize=19, color="black").encode(
            x=alt.value(193), y=alt.value(y), text="s:N") for s, y in zip(TITLE_LINES, ys)
    ]).properties(width=CELL_W, height=H)


cells = []
for row in LAYOUT:
    for name in row:
        if name is None:
            cells.append(empty())
        elif name == "TITLE":
            cells.append(title_cell())
        else:
            cells.append(panel(BY_NAME[name]))

chart = alt.concat(*cells, columns=4, spacing={"row": 35.8, "column": 43}, bounds="flush").properties(
    autosize=alt.AutoSizeParams(type="none"),
    padding={"left": 23, "top": 0, "right": 1764, "bottom": 1044},
).configure_view(stroke=None).configure_axis(
    labelFont=FONT, titleFont=FONT, labelColor="black", titleColor="black",
    labelFontSize=12.5, titleFontSize=12.5, titleFontWeight="normal",
    gridColor="black", gridDash=[1, 2], gridOpacity=1, gridWidth=1,
).configure_axisX(labelFontSize=10.5)

chart.save("out.html", embed_options={"renderer": "svg", "actions": False})
